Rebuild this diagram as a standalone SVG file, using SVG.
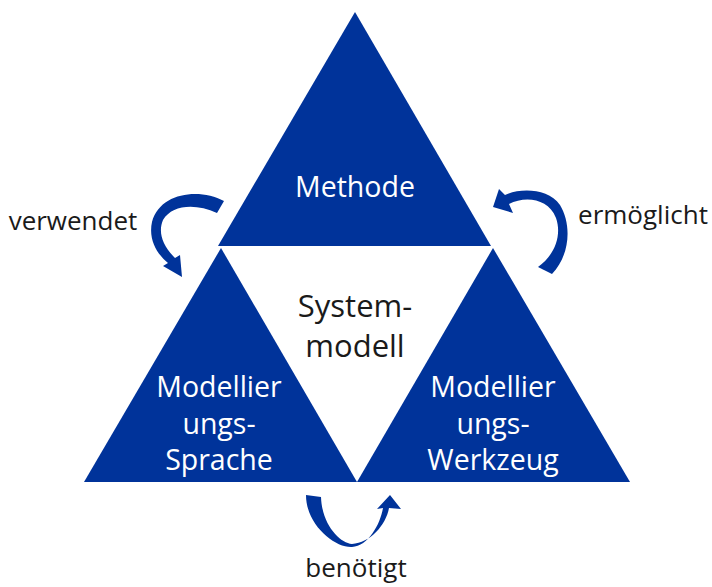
<svg xmlns="http://www.w3.org/2000/svg" width="712" height="587" viewBox="0 0 712 587">
<style>
.tri{fill:#00339a}
.arr{fill:#00339a}
.w{fill:#ffffff;font-family:"Open Sans","Noto Sans",sans-serif;font-size:28.5px;text-anchor:middle}
.b{fill:#1a1a1a;font-family:"Open Sans","Noto Sans",sans-serif;text-anchor:middle}
</style>
<rect width="712" height="587" fill="#ffffff"/>
<g id="methode">
<polygon class="tri" points="355,12 218,246 491,246"/>
<text class="w" x="355" y="197">Methode</text>
</g>
<g id="sprache">
<polygon class="tri" points="221,248 84,482 357,482"/>
<text class="w" x="219" y="397">Modellier</text>
<text class="w" x="219" y="434">ungs-</text>
<text class="w" x="219" y="470">Sprache</text>
</g>
<g id="werkzeug">
<polygon class="tri" points="493,248 357,482 630,482"/>
<text class="w" x="493" y="397">Modellier</text>
<text class="w" x="493" y="434">ungs-</text>
<text class="w" x="493" y="470">Werkzeug</text>
</g>
<g id="systemmodell">
<text class="b" x="355" y="317" font-size="31">System-</text>
<text class="b" x="355" y="357" font-size="31">modell</text>
</g>
<g id="connectors">
<path class="arr" d="M224,201 C200,188 160,192 152,222 C148,240 158,255 168,263 L163,266 L182,277 L180,255 L175,258 C162,245 158,232 163,220 C172,205 195,203 217,213 Z"/>
<path class="arr" d="M552,274 C570,255 572,225 560,205 C548,188 520,188 505,195 L499,189 L493,207 L513,213 L509,204 C525,196 548,198 556,218 C562,235 555,255 538,267 Z"/>
<path class="arr" d="M306,495 C306,525 335,548 352,547 C368,546 380,525 383,508 L377,509 L390,495 L401,509 L389,508 C386,525 370,543 352,544 C340,543 322,525 321,497 Z"/>
<text class="b" x="73" y="230" font-size="26">verwendet</text>
<text class="b" x="643" y="224" font-size="26">ermöglicht</text>
<text class="b" x="356" y="577" font-size="26">benötigt</text>
</g>
</svg>
